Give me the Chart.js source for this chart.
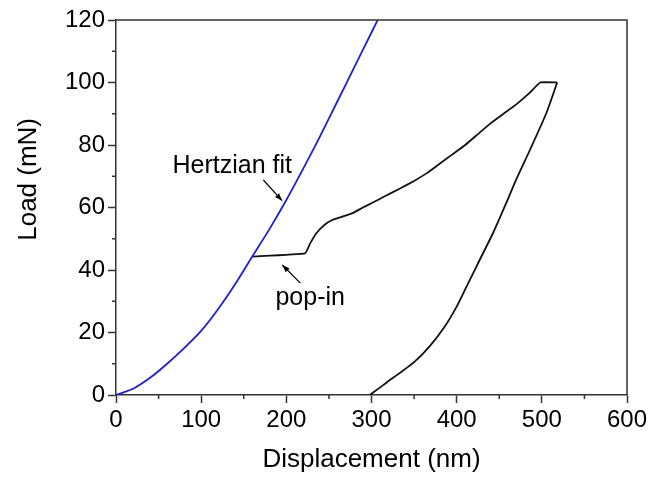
<!DOCTYPE html>
<html>
<head>
<meta charset="utf-8">
<script src="https://cdn.jsdelivr.net/npm/chart.js@4.4.1/dist/chart.umd.min.js"></script>
<style>
  html, body { margin: 0; padding: 0; background: #fff; }
  #wrap { width: 663px; height: 477px; }
</style>
</head>
<body>
<div id="wrap"><canvas id="chart" width="663" height="477"></canvas></div>
<script>
// Hertzian fit (blue)
const hertzX = [0, 20, 40, 60, 80, 100, 120, 140, 160, 180, 200, 220, 240, 260, 280, 300, 310];
const hertzY = [0, 2, 5.5, 10, 15, 20.5, 27.5, 35.5, 44.3, 53, 62.4, 72.5, 83, 94, 105, 116, 121.5];

// loading branch after pop-in
const loadX = [160, 222, 228, 235, 245, 254, 265, 278, 290, 301, 315, 333, 350, 365, 380, 395, 410, 425, 440, 455, 470, 485, 498, 518];
const loadY = [44.3, 45.3, 48.5, 51.7, 54.5, 56, 57, 58.2, 60, 61.5, 63.5, 66, 68.5, 71, 74, 77, 80, 83.5, 87, 90, 93, 96.5, 100, 100];

// unloading branch
const unloadX = [518, 505, 486, 470, 458, 443, 427, 413, 400, 385, 368, 350, 333, 320, 309, 298];
const unloadY = [100, 90, 78.4, 69, 61.3, 52, 43.2, 35.5, 28.3, 21.5, 15.5, 10.5, 7, 4.5, 2.2, 0];

const xTicks = [0, 100, 200, 300, 400, 500, 600];
const yTicks = [0, 20, 40, 60, 80, 100, 120];
const xMinor = [50, 150, 250, 350, 450, 550];
const yMinor = [10, 30, 50, 70, 90, 110];

const yTitle = 'Load (mN)';
const notes = [
    { text: 'Hertzian fit', x: 136.5, y: 73.3, from: [173, 68.8], to: [195, 62.2] },
    { text: 'pop-in', x: 228, y: 31, from: [216.5, 35.8], to: [195.3, 41.6] }
];

const AXIS = '#333';
const FONT = 'Liberation Sans, Arial, sans-serif';

function pts(xs, ys) {
    return xs.map((x, i) => ({ x: x, y: ys[i] }));
}

// frame, minor ticks, y title and annotations
const extras = {
    id: 'extras',
    afterDraw(chart) {
        const ctx = chart.ctx;
        const a = chart.chartArea;
        const xs = chart.scales.x, ys = chart.scales.y;
        ctx.save();
        ctx.strokeStyle = AXIS;
        ctx.lineWidth = 1.5;
        ctx.beginPath();
        ctx.moveTo(a.left, a.top);
        ctx.lineTo(a.right, a.top);
        ctx.lineTo(a.right, a.bottom);
        ctx.stroke();

        ctx.beginPath();
        xMinor.forEach(v => {
            const px = xs.getPixelForValue(v);
            ctx.moveTo(px, a.bottom);
            ctx.lineTo(px, a.bottom + 4);
        });
        yMinor.forEach(v => {
            const py = ys.getPixelForValue(v);
            ctx.moveTo(a.left, py);
            ctx.lineTo(a.left - 4, py);
        });
        ctx.stroke();

        // y title sits a bit above the middle of the axis in the original
        ctx.fillStyle = '#000';
        ctx.textAlign = 'center';
        ctx.textBaseline = 'middle';
        ctx.font = '26px ' + FONT;
        ctx.save();
        ctx.translate(29, ys.getPixelForValue(69));
        ctx.rotate(-Math.PI / 2);
        ctx.fillText(yTitle, 0, 0);
        ctx.restore();

        ctx.font = '25px ' + FONT;
        notes.forEach(n => {
            ctx.fillText(n.text, xs.getPixelForValue(n.x), ys.getPixelForValue(n.y));
            const x1 = xs.getPixelForValue(n.from[0]), y1 = ys.getPixelForValue(n.from[1]);
            const x2 = xs.getPixelForValue(n.to[0]), y2 = ys.getPixelForValue(n.to[1]);
            ctx.strokeStyle = '#000';
            ctx.lineWidth = 1.2;
            ctx.beginPath();
            ctx.moveTo(x1, y1);
            ctx.lineTo(x2, y2);
            ctx.stroke();
            const ang = Math.atan2(y2 - y1, x2 - x1);
            ctx.beginPath();
            ctx.moveTo(x2, y2);
            ctx.lineTo(x2 - 8 * Math.cos(ang - 0.35), y2 - 8 * Math.sin(ang - 0.35));
            ctx.lineTo(x2 - 8 * Math.cos(ang + 0.35), y2 - 8 * Math.sin(ang + 0.35));
            ctx.closePath();
            ctx.fill();
        });
        ctx.restore();
    }
};

const lineStyle = { showLine: true, pointRadius: 0, borderWidth: 1.8, tension: 0.2, fill: false };

new Chart(document.getElementById('chart').getContext('2d'), {
    type: 'scatter',
    data: {
        datasets: [
            Object.assign({ label: 'Hertzian fit', data: pts(hertzX, hertzY), borderColor: '#2020d0' }, lineStyle),
            Object.assign({ label: 'Loading', data: pts(loadX, loadY), borderColor: '#111' }, lineStyle, { tension: 0.1 }),
            Object.assign({ label: 'Unloading', data: pts(unloadX, unloadY), borderColor: '#111' }, lineStyle)
        ]
    },
    options: {
        responsive: false,
        animation: false,
        events: [],
        layout: { padding: { left: 0, right: 36, top: 20, bottom: 0 } },
        plugins: { legend: { display: false }, tooltip: { enabled: false } },
        scales: {
            x: {
                type: 'linear', min: 0, max: 600,
                afterBuildTicks: s => { s.ticks = xTicks.map(v => ({ value: v })); },
                afterFit: s => { s.height = 82; },
                border: { color: AXIS, width: 1.5 },
                grid: { drawOnChartArea: false, tickLength: 8, tickColor: AXIS, tickWidth: 1.5 },
                ticks: { color: '#000', font: { family: FONT, size: 24 }, padding: 3, maxRotation: 0 },
                title: { display: true, text: 'Displacement (nm)', color: '#000', font: { family: FONT, size: 26 }, padding: { top: 0, bottom: 2 } }
            },
            y: {
                type: 'linear', min: 0, max: 120,
                afterBuildTicks: s => { s.ticks = yTicks.map(v => ({ value: v })); },
                afterFit: s => { s.width = 116; },
                border: { color: AXIS, width: 1.5 },
                grid: { drawOnChartArea: false, tickLength: 8, tickColor: AXIS, tickWidth: 1.5 },
                ticks: { color: '#000', font: { family: FONT, size: 24 }, padding: 3 }
            }
        }
    },
    plugins: [extras]
});
</script>
</body>
</html>
